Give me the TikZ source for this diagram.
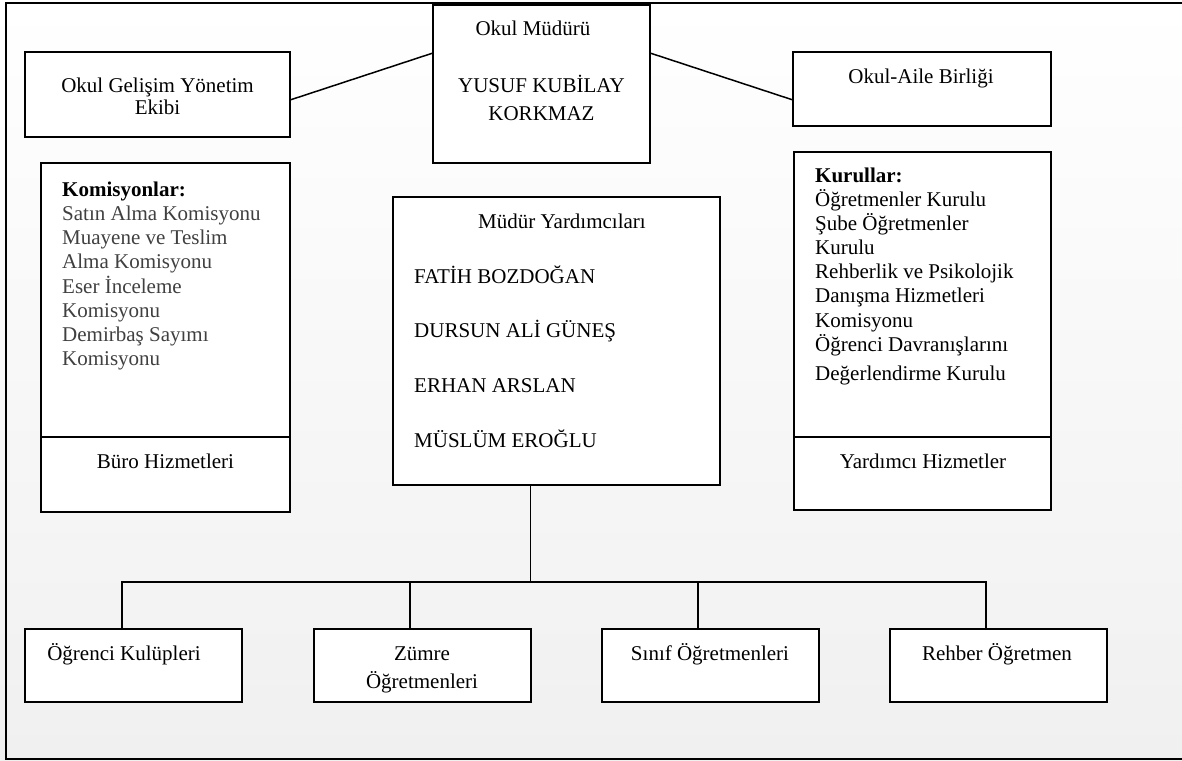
\documentclass[tikz,border=0pt]{standalone}
\usepackage{fontspec}
\setmainfont{Liberation Serif}
\definecolor{bgbot}{RGB}{240,240,240}
\definecolor{itemgray}{RGB}{64,64,64}
\begin{document}
\begin{tikzpicture}[x=1pt,y=-1pt,
  box/.style={draw, line width=1.5pt, fill=white, inner sep=0pt, outer sep=0pt},
  conn/.style={line width=1.5pt},
  txt/.style={font=\fontsize{21}{24}\selectfont, inner sep=0pt, anchor=base},
  ltxt/.style={txt, anchor=base west},
  gtxt/.style={ltxt, text=itemgray}]
\useasboundingbox (0,0) rectangle (1182,760);
\fill[top color=white, bottom color=bgbot] (0,0) rectangle (1182,760);
\draw[line width=2pt] (1190,3) -- (6,3) -- (6,759) -- (1190,759);

% top row
\node[box, minimum width=265pt, minimum height=85pt] (ogye) at (157.5,94.5) {};
\node[box, minimum width=217pt, minimum height=158pt] (mudur) at (541.5,84) {};
\node[box, minimum width=258pt, minimum height=74pt] (aile) at (922,89) {};
\node[txt] (t1a) at (157.5,92) {Okul Gelişim Yönetim};
\node[txt] (t1b) at (157.5,114.5) {Ekibi};
\node[txt] (t2a) at (533,36) {Okul Müdürü};
\node[txt] (t2b) at (541.5,92) {YUSUF KUBİLAY};
\node[txt] (t2c) at (541.5,120) {KORKMAZ};
\node[txt] (t3) at (921,83) {Okul-Aile Birliği};
\draw[conn] ([yshift=-5.5pt]ogye.east) -- ([yshift=31pt]mudur.west);
\draw[conn] ([yshift=31pt]mudur.east) -- ([yshift=-11pt]aile.west);

% left column
\node[box, minimum width=249pt, minimum height=349pt] (kom) at (165.5,337.5) {};
\coordinate (kdiv) at (0,437);
\draw[conn] (kom.west |- kdiv) -- (kom.east |- kdiv);
\node[ltxt, font=\fontsize{21}{24}\selectfont\bfseries] (k0) at (62,196) {Komisyonlar:};
\node[gtxt] (k1) at (62,220) {Satın Alma Komisyonu};
\node[gtxt] (k2) at (62,244.5) {Muayene ve Teslim};
\node[gtxt] (k3) at (62,268.5) {Alma Komisyonu};
\node[gtxt] (k4) at (62,293) {Eser İnceleme};
\node[gtxt] (k5) at (62,317) {Komisyonu};
\node[gtxt] (k6) at (62,341) {Demirbaş Sayımı};
\node[gtxt] (k7) at (62,365) {Komisyonu};
\node[txt] (buro) at (165.5,468) {Büro Hizmetleri};

% right column
\node[box, minimum width=257pt, minimum height=358pt] (kur) at (922.5,331) {};
\draw[conn] (kur.west |- kdiv) -- (kur.east |- kdiv);
\node[ltxt, font=\fontsize{21}{24}\selectfont\bfseries] (r0) at (815,182) {Kurullar:};
\node[ltxt] (r1) at (815,206.5) {Öğretmenler Kurulu};
\node[ltxt] (r2) at (815,230) {Şube Öğretmenler};
\node[ltxt] (r3) at (815,254) {Kurulu};
\node[ltxt] (r4) at (815,278.5) {Rehberlik ve Psikolojik};
\node[ltxt] (r5) at (815,302.5) {Danışma Hizmetleri};
\node[ltxt] (r6) at (815,327) {Komisyonu};
\node[ltxt] (r7) at (815,351) {Öğrenci Davranışlarını};
\node[ltxt] (r8) at (815,380) {Değerlendirme Kurulu};
\node[txt] (yh) at (923,468) {Yardımcı Hizmetler};

% centre
\node[box, minimum width=327pt, minimum height=288pt] (yard) at (556.5,341) {};
\node[txt] (y0) at (562,228) {Müdür Yardımcıları};
\node[ltxt] (y1) at (414,283) {FATİH BOZDOĞAN};
\node[ltxt] (y2) at (414,337.5) {DURSUN ALİ GÜNEŞ};
\node[ltxt] (y3) at (414,392) {ERHAN ARSLAN};
\node[ltxt] (y4) at (414,447) {MÜSLÜM EROĞLU};

% bottom row
\node[box, minimum width=217pt, minimum height=73pt] (b1) at (133.5,665.5) {};
\node[box, minimum width=217pt, minimum height=73pt] (b2) at (422.5,665.5) {};
\node[box, minimum width=217pt, minimum height=73pt] (b3) at (710.5,665.5) {};
\node[box, minimum width=217pt, minimum height=73pt] (b4) at (998.5,665.5) {};
\node[txt] (b1t) at (124,660) {Öğrenci Kulüpleri};
\node[txt] (b2t) at (422,660) {Zümre};
\node[txt] (b2u) at (422,688) {Öğretmenleri};
\node[txt] (b3t) at (710,660) {Sınıf Öğretmenleri};
\node[txt] (b4t) at (997,660) {Rehber Öğretmen};

\coordinate (busy) at (0,582);
\draw[conn] (yard.south -| 530.5,0) -- (530.5,582);
\draw[conn] ([xshift=97pt]b1.north west) |- ([xshift=96pt]b4.north west |- busy) -- ([xshift=96pt]b4.north west);
\draw[conn] ([xshift=96pt]b2.north west) -- ([xshift=96pt]b2.north west |- busy);
\draw[conn] ([xshift=96pt]b3.north west) -- ([xshift=96pt]b3.north west |- busy);
\end{tikzpicture}
\end{document}
